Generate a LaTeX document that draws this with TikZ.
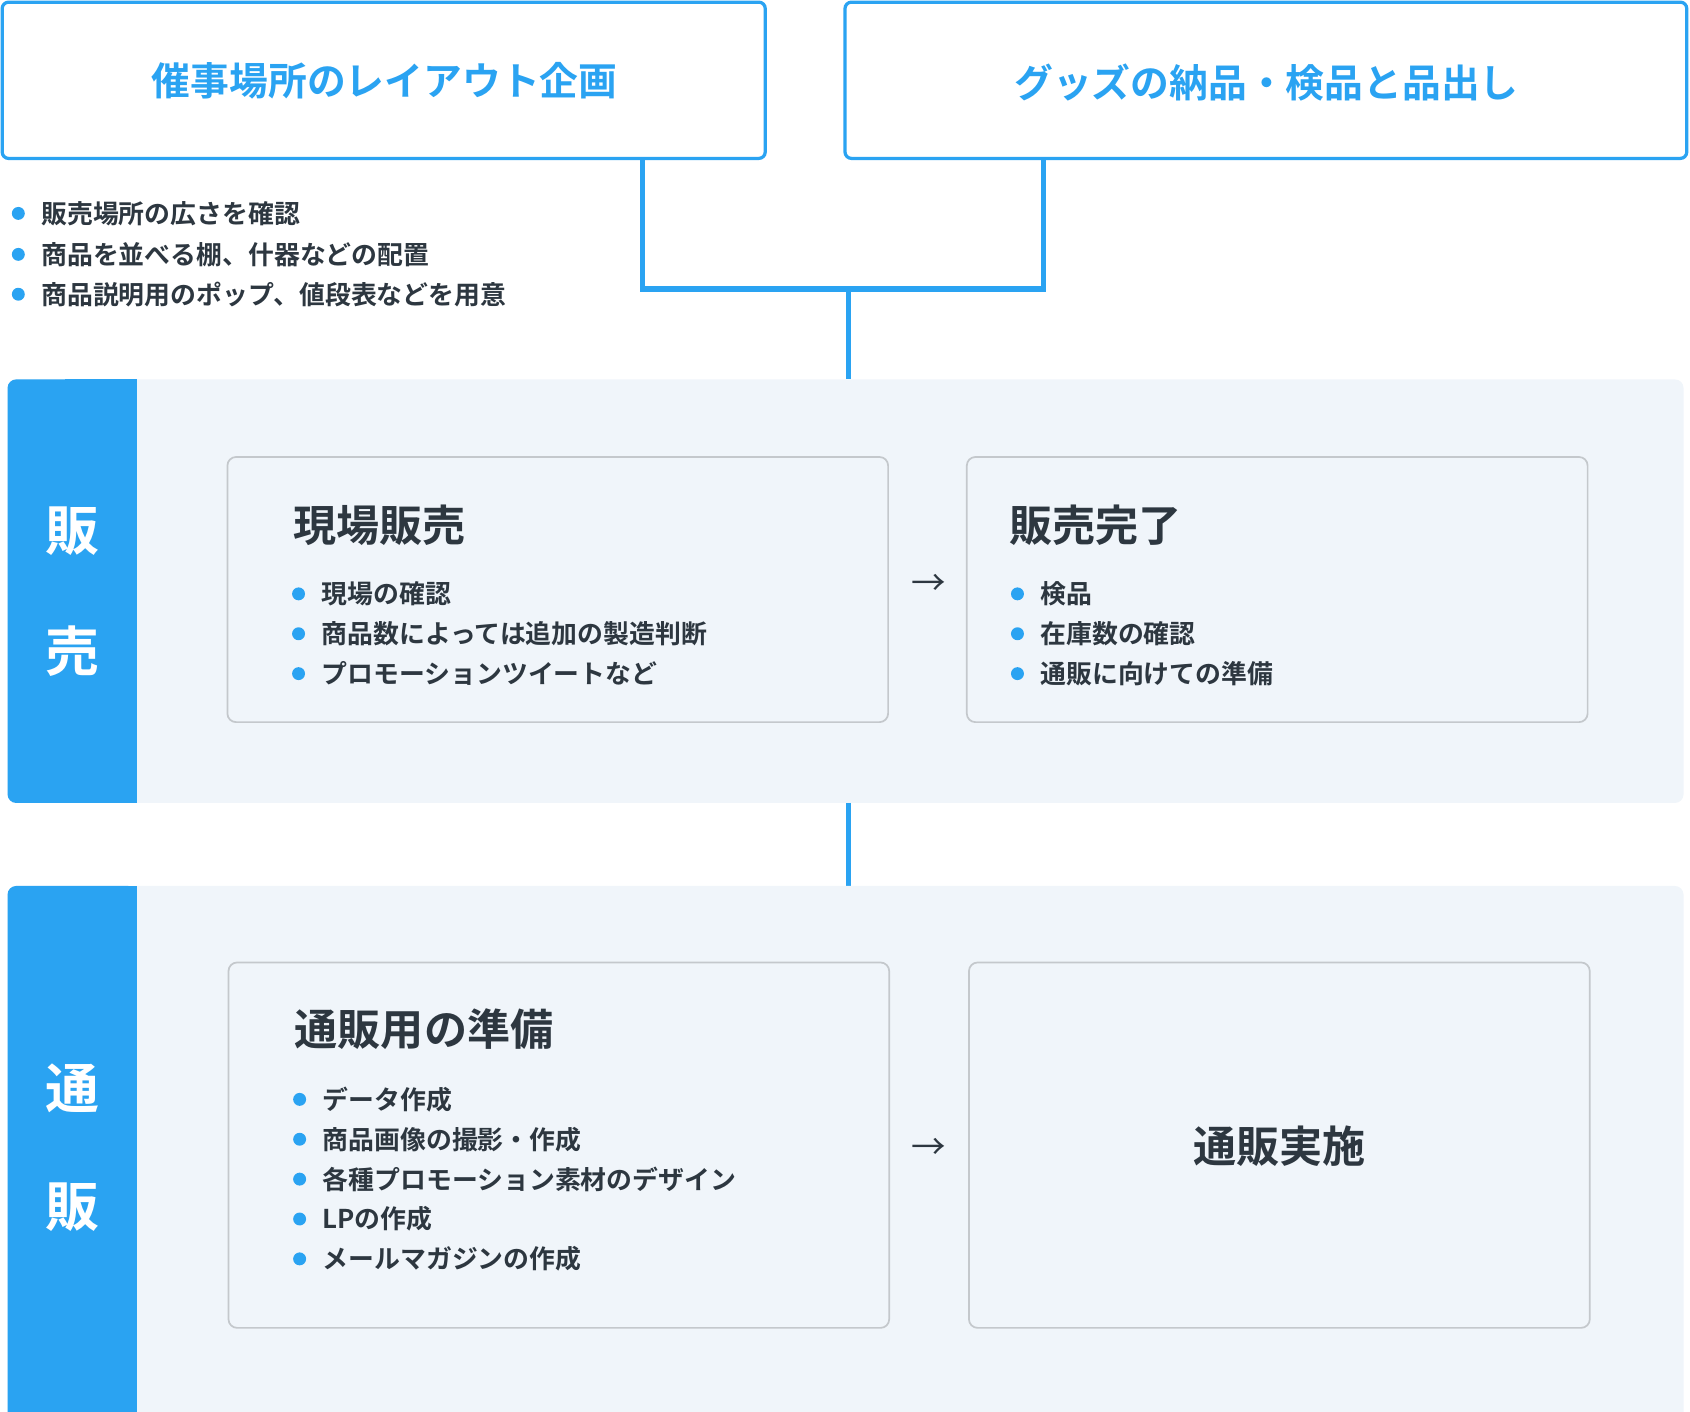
\documentclass[tikz,border=0pt]{standalone}
\usepackage{fontspec}
\setmainfont{Noto Sans CJK JP}
\newfontfamily\jpb{Noto Sans CJK JP Bold}
\definecolor{acc}{HTML}{2AA3F2}
\definecolor{pan}{HTML}{F0F5FA}
\definecolor{txt}{HTML}{2D3740}
\definecolor{brd}{HTML}{C4C8CC}
\begin{document}
\begin{tikzpicture}[x=0.5pt,y=-0.5pt,
 topbox/.style={draw=acc,line width=1.5pt,rounded corners=3pt,fill=white},
 card/.style={draw=brd,line width=0.8pt,rounded corners=4pt,fill=pan},
 conn/.style={draw=acc,line width=2.5pt},
 toptext/.style={text=acc,font=\jpb\fontsize{18}{20}\selectfont},
 bl/.style={anchor=west,text=txt,font=\jpb\fontsize{12}{14}\selectfont,inner sep=0},
 dot/.style={circle,fill=acc,inner sep=0,minimum size=6pt},
 ttl/.style={anchor=west,text=txt,font=\jpb\fontsize{20}{22}\selectfont,inner sep=0},
 band/.style={text=white,font=\jpb\fontsize{25}{27}\selectfont},
 arr/.style={text=txt,font=\fontsize{16}{18}\selectfont}]
\useasboundingbox (0,0) rectangle (1568,1310);
% top boxes
\draw[topbox] (2,2) rectangle (710,147);
\node[toptext] (t1) at (357,75) {催事場所のレイアウト企画};
\draw[topbox] (784,2) rectangle (1565,147);
\node[toptext] (t2) at (1175,77) {グッズの納品・検品と品出し};
\foreach \y/\s in {198/販売場所の広さを確認,236/商品を並べる棚、什器などの配置,273/商品説明用のポップ、値段表などを用意}{
 \node[dot] at (17,\y) {}; \node[bl] at (38,\y) {\s};}
% connectors
\coordinate (a1) at (596,148); \coordinate (a2) at (968,148);
\coordinate (m) at (787,268); \coordinate (p1) at (787,352);
\draw[conn] (a1) -- (596,268) -- (968,268) -- (a2);
\draw[conn] (m) -- (p1);
% panel 1
\fill[pan,rounded corners=4pt] (7,352) rectangle (1562,745);
\fill[acc,rounded corners=4pt] (7,352) rectangle (127,745);
\fill[acc] (60,352) rectangle (127,745);
\node[band] at (67,493) {販};
\node[band] at (67,604) {売};
\draw[card] (211,424) rectangle (824,670);
\node[ttl] at (272,487) {現場販売};
\foreach \y/\s in {551/現場の確認,588/商品数によっては追加の製造判断,625/プロモーションツイートなど}{
 \node[dot] at (277,\y) {}; \node[bl] at (298,\y) {\s};}
\node[arr] at (862,543) {→};
\draw[card] (897,424) rectangle (1473,670);
\node[ttl] at (936,487) {販売完了};
\foreach \y/\s in {551/検品,588/在庫数の確認,625/通販に向けての準備}{
 \node[dot] at (944,\y) {}; \node[bl] at (965,\y) {\s};}
% connector between panels
\coordinate (q1) at (787,745); \coordinate (q2) at (787,826);
\draw[conn] (q1) -- (q2);
% panel 2
\fill[pan,rounded corners=4pt] (7,822) rectangle (1562,1330);
\fill[acc,rounded corners=4pt] (7,822) rectangle (127,1330);
\fill[acc] (60,822) rectangle (127,1310);
\node[band] at (67,1010) {通};
\node[band] at (67,1120) {販};
\draw[card] (212,893) rectangle (825,1232);
\node[ttl] at (273,955) {通販用の準備};
\foreach \y/\s in {1020/データ作成,1057/商品画像の撮影・作成,1094/各種プロモーション素材のデザイン,1131/LPの作成,1168/メールマガジンの作成}{
 \node[dot] at (278,\y) {}; \node[bl] at (299,\y) {\s};}
\node[arr] at (862,1066) {→};
\draw[card] (899,893) rectangle (1475,1232);
\node[text=txt,font=\jpb\fontsize{20}{22}\selectfont] at (1187,1063) {通販実施};
\end{tikzpicture}
\end{document}
